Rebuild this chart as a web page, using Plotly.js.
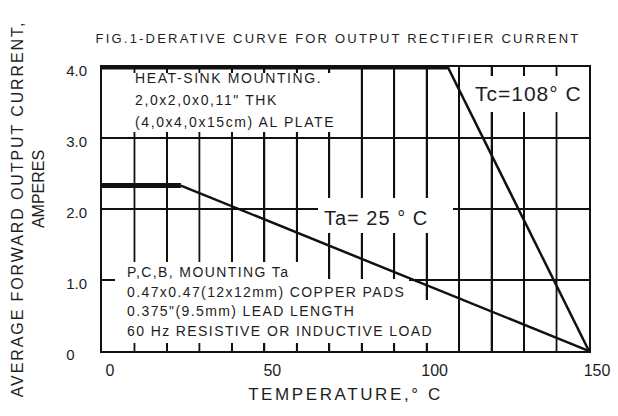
<!DOCTYPE html>
<html><head><meta charset="utf-8">
<script src="https://cdn.plot.ly/plotly-3.0.1.min.js"></script>
<style>html,body{margin:0;padding:0;background:#fff;}#chart{width:618px;height:416px;}</style>
</head><body><div id="chart"></div>
<script>
// ---- data ----
const heatSinkFlatTemp = [0, 106.5];
const heatSinkFlatCurrent = [4.0, 4.0];
const heatSinkSlopeTemp = [106.5, 150];
const heatSinkSlopeCurrent = [4.0, 0];
const pcbFlatTemp = [0, 24.3];
const pcbFlatCurrent = [2.33, 2.33];
const pcbSlopeTemp = [24.3, 150];
const pcbSlopeCurrent = [2.33, 0];
const tempTickVals = [0, 50, 100, 150];
const tempTickText = ['0', '50', '100', '150'];
const tempGridVals = [10, 20, 30, 40, 50, 60, 70, 80, 90, 100, 110, 120, 130, 140];
const currentTickVals = [0, 1, 2, 3, 4];
const currentTickText = ['0\u2008\u2007', '1.0', '2.0', '3.0', '4.0'];
const heatSinkNote = ['HEAT-SINK MOUNTING.', '2,0x2,0x0,11" THK', '(4,0x4,0x15cm) AL PLATE'];
const pcbNote = ['P,C,B, MOUNTING Ta', '0.47x0.47(12x12mm) COPPER PADS', '0.375"(9.5mm) LEAD LENGTH', '60 Hz RESISTIVE OR INDUCTIVE LOAD'];
const caseLabel = 'Tc=108° C';
const ambientLabel = 'Ta= 25 ° C';
const chartTitle = 'FIG.1-DERATIVE CURVE FOR OUTPUT RECTIFIER CURRENT';
const xTitle = 'TEMPERATURE,° C';
const yTitle1 = 'AVERAGE FORWARD OUTPUT CURRENT,';
const yTitle2 = 'AMPERES';

// ---- geometry (pixels of plot frame) ----
const L = 102, R = 589, T = 67, B = 351;
const Y_RANGE = [currentTickVals[0], currentTickVals[currentTickVals.length - 1]];
const px = x => (x - L) / (R - L);
const py = y => (B - y) / (B - T);
const FONT = 'Liberation Sans, Arial, sans-serif';
const INK = '#111';
const TXT = '#1e1e1e';
const ls = (t, s) => '<span style="letter-spacing:' + s + 'px">' + t + '</span>';

// vertical grid (every 10 °C) drawn through the x scale
const gridX = [], gridY = [];
tempGridVals.forEach(t => { gridX.push(t, t, null); gridY.push(Y_RANGE[0], Y_RANGE[1], null); });

function lineTrace(x, y, w) {
  return {x: x, y: y, type: 'scatter', mode: 'lines', line: {color: INK, width: w},
          hoverinfo: 'skip', showlegend: false, cliponaxis: false, connectgaps: false};
}
const traces = [
  lineTrace(gridX, gridY, 1.8),
  lineTrace(heatSinkFlatTemp, heatSinkFlatCurrent, 5),
  lineTrace(heatSinkSlopeTemp, heatSinkSlopeCurrent, 2.5),
  lineTrace(pcbFlatTemp, pcbFlatCurrent, 5),
  lineTrace(pcbSlopeTemp, pcbSlopeCurrent, 2.5)
];

const annotations = [];
// white label backgrounds that interrupt the grid behind the notes
function mask(x0, y0, x1, y1) {
  annotations.push({xref: 'paper', yref: 'paper', x: px(x0), y: py(y0), xanchor: 'left', yanchor: 'top',
    showarrow: false, text: '\u00A0', width: x1 - x0, height: y1 - y0,
    bgcolor: '#fff', borderpad: 0, borderwidth: 0, font: {family: FONT, size: 10, color: '#fff'}});
}
mask(128, 73, 338, 132);
mask(473, 76, 586, 112);
mask(318, 198, 453, 233);
mask(115, 262, 310, 279);
mask(115, 279, 409, 300);
mask(115, 300, 443, 343);

function note(text, xPos, yMid, size, spacing, anchor) {
  annotations.push({xref: 'paper', yref: 'paper', x: px(xPos), y: py(yMid), xanchor: anchor || 'left', yanchor: 'middle',
    showarrow: false, text: spacing ? ls(text, spacing) : text,
    font: {family: FONT, size: size, color: TXT}});
}
heatSinkNote.forEach((t, i) => note(t, 133, 78 + i * 22, 14, 1.6));
pcbNote.forEach((t, i) => note(t, 125, 272 + i * 19.7, 14, 1.4));
note(caseLabel, 584, 93, 21, 1, 'right');
note(ambientLabel, 322, 218, 20, 1);

const layout = {
  width: 618, height: 416,
  margin: {l: L, r: 618 - R, t: T, b: 416 - B},
  paper_bgcolor: '#fff', plot_bgcolor: '#fff',
  font: {family: FONT, color: TXT},
  title: {text: ls(chartTitle, 2.2), font: {family: FONT, size: 13, color: TXT},
          xref: 'container', yref: 'container', x: 338 / 618, y: 1 - 38 / 416, xanchor: 'center', yanchor: 'middle'},
  xaxis: {range: [0, 150], tickmode: 'array', tickvals: tempTickVals, ticktext: tempTickText,
          showgrid: true, gridcolor: INK, gridwidth: 1.8, zeroline: false,
          minor: {tickmode: 'linear', tick0: 0, dtick: 10, showgrid: true, gridcolor: INK, gridwidth: 1.8, ticks: ''},
          showline: true, linecolor: INK, linewidth: 2, mirror: true, ticks: '',
          tickfont: {family: FONT, size: 16, color: TXT}, ticklabelshift: 8, ticklabelstandoff: 4,
          title: {text: ls(xTitle, 2.6), font: {family: FONT, size: 17, color: TXT}, standoff: 10},
          fixedrange: true},
  yaxis: {range: Y_RANGE, tickmode: 'array', tickvals: currentTickVals, ticktext: currentTickText,
          showgrid: true, gridcolor: INK, gridwidth: 1.6, zeroline: false,
          showline: true, linecolor: INK, linewidth: 2, mirror: true, ticks: '',
          tickfont: {family: FONT, size: 15, color: TXT}, ticklabelshift: 4, ticklabelstandoff: 10,
          title: {text: ls(yTitle1, 1.9) + '<br>' + '\u00A0'.repeat(9) + yTitle2,
                  font: {family: FONT, size: 16, color: TXT}, standoff: 18},
          fixedrange: true},
  annotations: annotations
};
Plotly.newPlot('chart', traces, layout, {displayModeBar: false, staticPlot: true});
</script>
</body></html>
